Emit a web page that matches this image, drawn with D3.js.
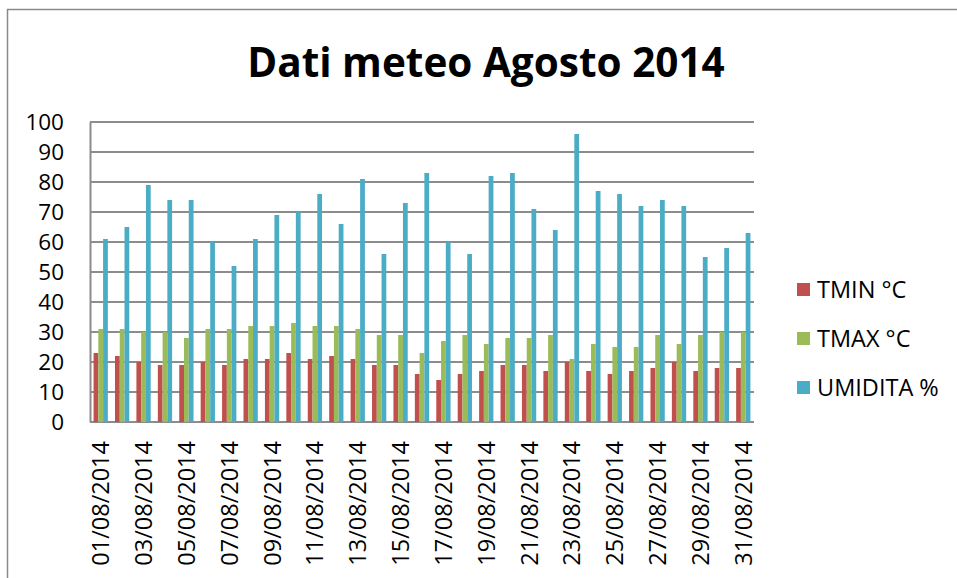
<!DOCTYPE html>
<html>
<head>
<meta charset="utf-8">
<script src="https://cdn.jsdelivr.net/npm/d3@7"></script>
<style>
  body { margin: 0; background: #fff; }
  text { font-family: "Open Sans", sans-serif; fill: #000; }
</style>
</head>
<body>
<div id="chart"></div>
<script>
// values
const days = d3.range(1, 32).map(d => String(d).padStart(2, "0") + "/08/2014");
const tmin = [23,22,20,19,19,20,19,21,21,23,21,22,21,19,19,16,14,16,17,19,19,17,20,17,16,17,18,20,17,18,18];
const tmax = [31,31,30,30,28,31,31,32,32,33,32,32,31,29,29,23,27,29,26,28,28,29,21,26,25,25,29,26,29,30,30];
const umidita = [61,65,79,74,74,60,52,61,69,70,76,66,81,56,73,83,60,56,82,83,71,64,96,77,76,72,74,72,55,58,63];
const seriesNames = ["TMIN °C", "TMAX °C", "UMIDITA %"];
const seriesColors = ["#c0504d", "#9bbb59", "#4bacc6"];
const yTicks = d3.range(0, 101, 10);

function draw() {
    const W = 957, H = 578;
    const plot = { left: 90, right: 754, top: 122, bottom: 422 };

    const svg = d3.select("#chart")
        .append("svg")
        .attr("width", W)
        .attr("height", H);

    // outer chart frame (only left and top edges fall inside the picture)
    svg.append("rect")
        .attr("x", 7.5)
        .attr("y", 9.5)
        .attr("width", 1000)
        .attr("height", 700)
        .attr("fill", "none")
        .attr("stroke", "#8a8a8a")
        .attr("stroke-width", 1.5);

    const x0 = d3.scaleBand()
        .domain(days)
        .range([plot.left, plot.right])
        .padding(0);

    const barW = x0.bandwidth() / 4.5;  // gap width 150%
    const x1 = d3.scaleBand()
        .domain(seriesNames)
        .range([0, barW * 3]);

    const y = d3.scaleLinear()
        .domain([0, 100])
        .range([plot.bottom, plot.top]);

    // gridlines
    svg.append("g")
        .selectAll("line")
        .data(yTicks)
        .join("line")
        .attr("x1", plot.left)
        .attr("x2", plot.right)
        .attr("y1", d => y(d))
        .attr("y2", d => y(d))
        .attr("stroke", "#8c8c8c")
        .attr("stroke-width", 2);

    // y axis
    const yAxis = svg.append("g")
        .attr("transform", `translate(${plot.left},0)`)
        .call(d3.axisLeft(y).tickValues(yTicks).tickSize(0).tickPadding(26));
    yAxis.select(".domain").attr("stroke", "#8c8c8c").attr("stroke-width", 2);
    yAxis.selectAll("text")
        .style("font-family", "'Open Sans', sans-serif")
        .style("font-size", "22.5px")
        .attr("fill", "#000");

    // bars
    const rows = days.map((d, i) => ({ day: d, vals: [tmin[i], tmax[i], umidita[i]] }));
    const groups = svg.append("g")
        .selectAll("g")
        .data(rows)
        .join("g")
        .attr("transform", d => `translate(${x0(d.day) + (x0.bandwidth() - barW * 3) / 2},0)`);

    groups.selectAll("rect")
        .data(d => d.vals.map((v, k) => ({ name: seriesNames[k], value: v, k: k })))
        .join("rect")
        .attr("x", d => x1(d.name))
        .attr("width", x1.bandwidth())
        .attr("y", d => y(d.value))
        .attr("height", d => y(0) - y(d.value))
        .attr("fill", d => seriesColors[d.k]);

    // x labels, every other day
    svg.append("g")
        .selectAll("text")
        .data(days.filter((d, i) => i % 2 === 0))
        .join("text")
        .attr("transform", d => `translate(${x0(d) + x0.bandwidth() / 2},441) rotate(-90)`)
        .attr("text-anchor", "end")
        .attr("dy", "0.36em")
        .style("font-size", "23.5px")
        .text(d => d);

    // title
    svg.append("text")
        .attr("x", 486)
        .attr("y", 77)
        .attr("text-anchor", "middle")
        .style("font-size", "40.5px")
        .style("font-weight", "bold")
        .text("Dati meteo Agosto 2014");

    // legend
    const legend = svg.append("g")
        .selectAll("g")
        .data(seriesNames)
        .join("g")
        .attr("transform", (d, i) => `translate(797,${290 + i * 49})`);

    legend.append("rect")
        .attr("x", 0)
        .attr("y", -7)
        .attr("width", 13)
        .attr("height", 13)
        .attr("fill", (d, i) => seriesColors[i]);

    legend.append("text")
        .attr("x", 20)
        .attr("dy", "0.36em")
        .style("font-size", "23.5px")
        .text(d => d);
}

window.onload = draw;
</script>
</body>
</html>
